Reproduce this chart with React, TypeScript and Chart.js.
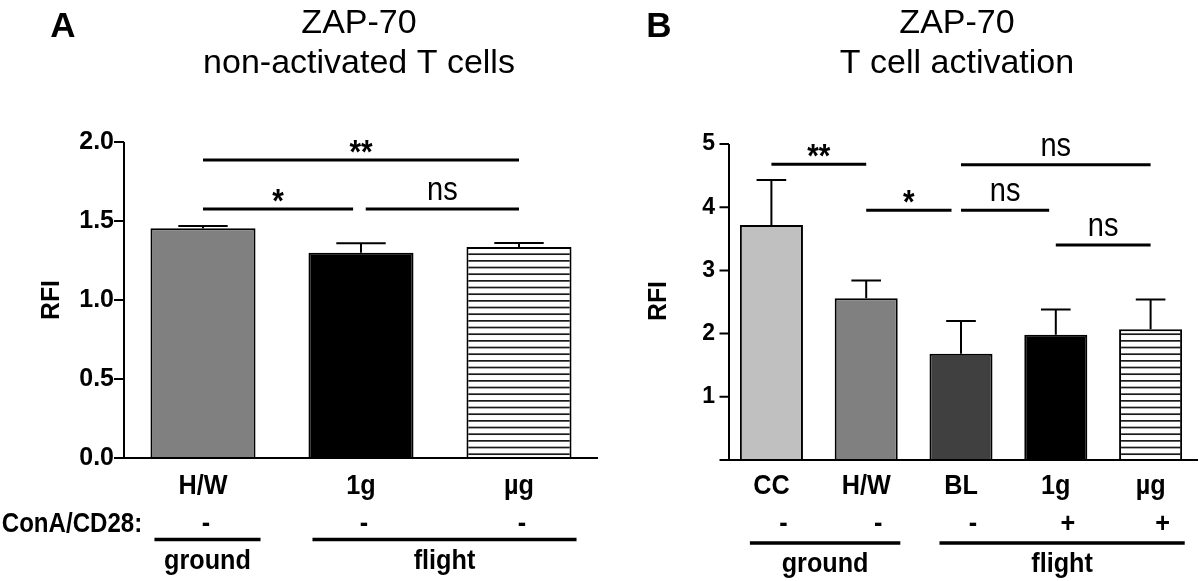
import React, { useEffect, useRef } from 'react';
import { Chart, registerables } from 'chart.js';

Chart.register(...registerables);

// ---------- Panel A data ----------
const catsA = ['H/W', '1g', 'µg'];
const valsA = [1.454, 1.299, 1.335];
const errTopA = [1.468, 1.359, 1.361];
const fillsA = ['#808080', '#000000', 'stripes'];
const conaA = ['-', '-', '-'];
const yTicksA = [0, 0.5, 1.0, 1.5, 2.0];
const yTickLabelsA = ['0.0', '0.5', '1.0', '1.5', '2.0'];
const sigA = [
  { from: 0, to: 2, y: 1.886, label: '**' },
  { from: 0, to: 0.95, y: 1.576, label: '*' },
  { from: 1.03, to: 2, y: 1.576, label: 'ns' },
];
const groupsA = [
  { label: 'ground', first: 0, last: 0 },
  { label: 'flight', first: 1, last: 2 },
];

// ---------- Panel B data ----------
const catsB = ['CC', 'H/W', 'BL', '1g', 'µg'];
const valsB = [3.72, 2.56, 1.68, 1.98, 2.07];
const errTopB = [4.43, 2.84, 2.2, 2.38, 2.54];
const fillsB = ['#c0c0c0', '#808080', '#404040', '#000000', 'stripes'];
const conaB = ['-', '-', '-', '+', '+'];
const yTicksB = [0, 1, 2, 3, 4, 5];
const yTickLabelsB = ['', '1', '2', '3', '4', '5'];
const sigB = [
  { from: 0, to: 1, y: 4.68, label: '**' },
  { from: 1, to: 1.9, y: 3.95, label: '*' },
  { from: 2, to: 4, y: 4.67, label: 'ns' },
  { from: 2, to: 2.93, y: 3.95, label: 'ns' },
  { from: 3, to: 4, y: 3.4, label: 'ns' },
];
const groupsB = [
  { label: 'ground', first: 0, last: 1 },
  { label: 'flight', first: 2, last: 4 },
];

const FONT = '"Liberation Sans", Arial, Helvetica, sans-serif';
const W = 600;
const H = 581;

type Panel = {
  cats: string[];
  vals: number[];
  errTop: number[];
  fills: string[];
  cona: string[];
  yTicks: number[];
  yTickLabels: string[];
  sig: { from: number; to: number; y: number; label: string }[];
  groups: { label: string; first: number; last: number }[];
  yMax: number;
  letter: string;
  title: string[];
  rowLabel: string | null;
  top: number;
  bottom: number;
  letterX: number;
  titleX: number;
  yTitleX: number;
  yTitleY: number;
  tickFont: number;
  tickPad: number;
  tickLen: number;
  axisShift: number;
  xAxisExt: number;
  markShift: number;
  groupL: number;
  groupR: number;
  groupLineY: number;
  groupLabelY: number;
};

const panelA: Panel = {
  cats: catsA, vals: valsA, errTop: errTopA, fills: fillsA, cona: conaA,
  yTicks: yTicksA, yTickLabels: yTickLabelsA, sig: sigA, groups: groupsA,
  yMax: 2, letter: 'A', title: ['ZAP-70', 'non-activated T cells'], rowLabel: 'ConA/CD28:',
  top: 142, bottom: 458, letterX: 63, titleX: 359, yTitleX: 52, yTitleY: 300,
  tickFont: 25, tickPad: 10, tickLen: 10, axisShift: 0, xAxisExt: 10, markShift: 3,
  groupL: 4, groupR: 5, groupLineY: 539.5, groupLabelY: 569,
};

const panelB: Panel = {
  cats: catsB, vals: valsB, errTop: errTopB, fills: fillsB, cona: conaB,
  yTicks: yTicksB, yTickLabels: yTickLabelsB, sig: sigB, groups: groupsB,
  yMax: 5, letter: 'B', title: ['ZAP-70', 'T cell activation'], rowLabel: null,
  top: 144, bottom: 460, letterX: 59, titleX: 357, yTitleX: 59, yTitleY: 301,
  tickFont: 23, tickPad: 9, tickLen: 9.5, axisShift: 5, xAxisExt: 1, markShift: 12,
  groupL: 10, groupR: 2.6, groupLineY: 543, groupLabelY: 572,
};

function makeStripes(): CanvasPattern | string {
  const c = document.createElement('canvas');
  c.width = 8;
  c.height = 20;
  const g = c.getContext('2d');
  if (!g) return '#ffffff';
  g.fillStyle = '#ffffff';
  g.fillRect(0, 0, 8, 20);
  g.fillStyle = '#1a1a1a';
  [0, 20 / 3, 40 / 3].forEach((y) => g.fillRect(0, y, 8, 1.7));
  return g.createPattern(c, 'repeat') || '#ffffff';
}

// text drawn slightly condensed horizontally, like the reference's narrow bold face
function condText(ctx: CanvasRenderingContext2D, text: string, x: number, y: number, font: string, hs: number) {
  ctx.save();
  ctx.translate(x, y);
  ctx.scale(hs, 1);
  ctx.font = font;
  ctx.textAlign = 'center';
  ctx.textBaseline = 'alphabetic';
  ctx.fillText(text, 0, 0);
  ctx.restore();
}

function decorPlugin(p: Panel) {
  return {
    id: 'decor',
    afterDatasetsDraw(chart: any) {
      const ctx = chart.ctx as CanvasRenderingContext2D;
      const ys = chart.scales.y;
      const bars = chart.getDatasetMeta(0).data;
      ctx.save();
      ctx.strokeStyle = '#000';
      ctx.lineWidth = 2;
      bars.forEach((b: any, i: number) => {
        const yTop = ys.getPixelForValue(p.vals[i]);
        const yErr = ys.getPixelForValue(p.errTop[i]);
        const cap = b.width * 0.47;
        ctx.beginPath();
        ctx.moveTo(b.x, yTop);
        ctx.lineTo(b.x, yErr);
        ctx.moveTo(b.x - cap / 2, yErr);
        ctx.lineTo(b.x + cap / 2, yErr);
        ctx.stroke();
      });
      ctx.restore();
    },
    afterDraw(chart: any) {
      const ctx = chart.ctx as CanvasRenderingContext2D;
      const xs = chart.scales.x;
      const ys = chart.scales.y;
      const area = chart.chartArea;
      const bars = chart.getDatasetMeta(0).data;
      ctx.save();
      ctx.fillStyle = '#000';
      ctx.strokeStyle = '#000';

      // axes
      ctx.lineWidth = 2;
      const ax = area.left + p.axisShift;
      ctx.beginPath();
      ctx.moveTo(ax, ys.getPixelForValue(p.yMax));
      ctx.lineTo(ax, area.bottom);
      p.yTicks.forEach((v) => {
        const y = ys.getPixelForValue(v);
        ctx.moveTo(ax - p.tickLen, y);
        ctx.lineTo(ax, y);
      });
      ctx.moveTo(area.left - p.xAxisExt, area.bottom);
      ctx.lineTo(area.right, area.bottom);
      ctx.stroke();

      // letter + title
      ctx.textAlign = 'center';
      ctx.textBaseline = 'alphabetic';
      ctx.font = `bold 35px ${FONT}`;
      ctx.fillText(p.letter, p.letterX, 37);
      ctx.font = `34px ${FONT}`;
      ctx.fillText(p.title[0], p.titleX, 33);
      ctx.fillText(p.title[1], p.titleX, 73);

      // y title
      ctx.save();
      ctx.translate(p.yTitleX, p.yTitleY);
      ctx.rotate(-Math.PI / 2);
      ctx.scale(0.95, 1);
      ctx.font = `bold 26px ${FONT}`;
      ctx.textAlign = 'center';
      ctx.textBaseline = 'middle';
      ctx.fillText('RFI', 0, 0);
      ctx.restore();

      // category labels + ConA/CD28 marks
      const boldF = `bold 28px ${FONT}`;
      bars.forEach((b: any, i: number) => {
        condText(ctx, p.cats[i], b.x, 494, boldF, 0.9);
        condText(ctx, p.cona[i], b.x + p.markShift, 532, boldF, 0.9);
      });
      if (p.rowLabel) {
        condText(ctx, p.rowLabel, 72, 532, boldF, 0.86);
      }

      // groups
      ctx.lineWidth = 3.3;
      p.groups.forEach((g) => {
        const b0: any = bars[g.first];
        const b1: any = bars[g.last];
        const x0 = b0.x - b0.width / 2 + p.groupL;
        const x1 = b1.x + b1.width / 2 + p.groupR;
        ctx.beginPath();
        ctx.moveTo(x0, p.groupLineY);
        ctx.lineTo(x1, p.groupLineY);
        ctx.stroke();
        condText(ctx, g.label, (x0 + x1) / 2, p.groupLabelY, boldF, 0.9);
      });

      // significance bars
      ctx.lineWidth = 3;
      p.sig.forEach((s) => {
        const x0 = xs.getPixelForValue(s.from);
        const x1 = xs.getPixelForValue(s.to);
        const y = ys.getPixelForValue(s.y);
        ctx.beginPath();
        ctx.moveTo(x0, y);
        ctx.lineTo(x1, y);
        ctx.stroke();
        const star = s.label.indexOf('*') >= 0;
        if (star) condText(ctx, s.label, (x0 + x1) / 2, y + 3, `bold 33px ${FONT}`, 0.9);
        else condText(ctx, s.label, (x0 + x1) / 2, y - 9, `33px ${FONT}`, 0.88);
      });
      ctx.restore();
    },
  };
}

function makeChart(canvas: HTMLCanvasElement, p: Panel) {
  const stripes = makeStripes();
  return new Chart(canvas, {
    type: 'bar',
    data: {
      labels: p.cats,
      datasets: [
        {
          data: p.vals,
          backgroundColor: p.fills.map((f) => (f === 'stripes' ? stripes : f)) as any,
          borderColor: '#000000',
          borderWidth: 2,
          categoryPercentage: 1,
          barPercentage: 0.665,
        },
      ],
    },
    options: {
      responsive: false,
      animation: false,
      devicePixelRatio: 1,
      layout: { padding: { top: p.top, right: 2, left: 0, bottom: 0 } },
      plugins: {
        legend: { display: false },
        tooltip: { enabled: false },
        title: { display: false },
      },
      scales: {
        x: {
          type: 'category',
          offset: true,
          grid: { display: false, drawTicks: false },
          border: { display: false },
          ticks: { display: false },
          afterFit: (s: any) => {
            s.height = H - p.bottom;
          },
        },
        y: {
          min: 0,
          max: p.yMax,
          grid: { display: false, drawTicks: false },
          border: { display: false },
          afterBuildTicks: (s: any) => {
            s.ticks = p.yTicks.map((v) => ({ value: v }));
          },
          ticks: {
            color: '#000',
            padding: p.tickPad,
            autoSkip: false,
            font: { family: FONT, size: p.tickFont, weight: 'bold' },
            callback: (_v: any, i: number) => p.yTickLabels[i],
          },
          afterFit: (s: any) => {
            s.width = 124;
          },
        },
      },
    } as any,
    plugins: [decorPlugin(p) as any],
  });
}

export default function App() {
  const refA = useRef<HTMLCanvasElement>(null);
  const refB = useRef<HTMLCanvasElement>(null);
  useEffect(() => {
    const a = refA.current ? makeChart(refA.current, panelA) : null;
    const b = refB.current ? makeChart(refB.current, panelB) : null;
    return () => {
      a?.destroy();
      b?.destroy();
    };
  }, []);
  return (
    <div style={{ position: 'absolute', left: 0, top: 0, width: 1200, height: H, overflow: 'hidden', background: '#fff' }}>
      <canvas ref={refA} width={W} height={H} style={{ position: 'absolute', left: 0, top: 0, width: W, height: H }} />
      <canvas ref={refB} width={W} height={H} style={{ position: 'absolute', left: 600, top: 0, width: W, height: H }} />
    </div>
  );
}
